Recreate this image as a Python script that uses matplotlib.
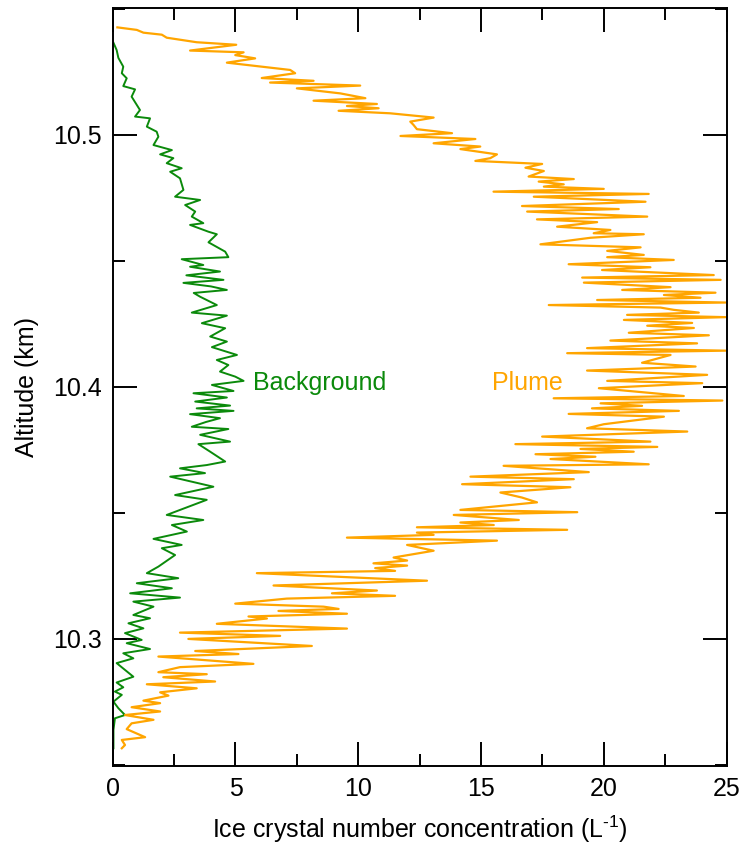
import matplotlib
matplotlib.use("Agg")
import matplotlib.pyplot as plt
from matplotlib.ticker import MultipleLocator

plt.rcParams['font.family'] = ['Liberation Sans', 'DejaVu Sans']
plt.rcParams['mathtext.fontset'] = 'custom'
plt.rcParams['mathtext.rm'] = 'Liberation Sans'

# Plume profile: altitude (km) and ice crystal number concentration (L^-1)
plume_alt = [10.5427, 10.5417, 10.5406, 10.5398, 10.5386, 10.5368, 10.5358, 10.5335, 10.5328, 10.5317,
             10.5304, 10.5287, 10.5258, 10.5245, 10.5226, 10.5215, 10.5208, 10.5196, 10.5185, 10.5165,
             10.5146, 10.5136, 10.5123, 10.5115, 10.5106, 10.5096, 10.5086, 10.5069, 10.5053, 10.5040,
             10.5023, 10.5007, 10.4996, 10.4984, 10.4967, 10.4954, 10.4944, 10.4923, 10.4908, 10.4897,
             10.4885, 10.4870, 10.4857, 10.4835, 10.4825, 10.4815, 10.4804, 10.4795, 10.4786, 10.4775,
             10.4766, 10.4755, 10.4735, 10.4718, 10.4706, 10.4696, 10.4676, 10.4665, 10.4654, 10.4636,
             10.4623, 10.4610, 10.4606, 10.4592, 10.4566, 10.4554, 10.4540, 10.4524, 10.4515, 10.4504,
             10.4487, 10.4475, 10.4464, 10.4444, 10.4434, 10.4425, 10.4414, 10.4396, 10.4385, 10.4374,
             10.4365, 10.4354, 10.4345, 10.4335, 10.4325, 10.4315, 10.4306, 10.4295, 10.4286, 10.4277,
             10.4266, 10.4254, 10.4243, 10.4234, 10.4215, 10.4205, 10.4184, 10.4173, 10.4154, 10.4144,
             10.4134, 10.4127, 10.4096, 10.4081, 10.4065, 10.4048, 10.4024, 10.4015, 10.3995, 10.3964,
             10.3955, 10.3946, 10.3935, 10.3925, 10.3915, 10.3905, 10.3893, 10.3882, 10.3852, 10.3836,
             10.3823, 10.3803, 10.3783, 10.3773, 10.3762, 10.3754, 10.3743, 10.3733, 10.3723, 10.3714,
             10.3693, 10.3687, 10.3662, 10.3644, 10.3634, 10.3614, 10.3602, 10.3581, 10.3561, 10.3542,
             10.3512, 10.3503, 10.3492, 10.3472, 10.3462, 10.3452, 10.3443, 10.3433, 10.3422, 10.3413,
             10.3402, 10.3390, 10.3373, 10.3350, 10.3323, 10.3311, 10.3300, 10.3291, 10.3281, 10.3270,
             10.3261, 10.3231, 10.3212, 10.3192, 10.3181, 10.3171, 10.3160, 10.3140, 10.3128, 10.3119,
             10.3111, 10.3100, 10.3089, 10.3081, 10.3060, 10.3041, 10.3025, 10.3012, 10.3000, 10.2972,
             10.2952, 10.2940, 10.2930, 10.2901, 10.2888, 10.2868, 10.2860, 10.2848, 10.2831, 10.2820,
             10.2804, 10.2788, 10.2775, 10.2755, 10.2745, 10.2729, 10.2712, 10.2698, 10.2679, 10.2665,
             10.2642, 10.2610, 10.2599, 10.2579, 10.2566]
plume_conc = [0.19, 0.98, 1.25, 2.00, 2.20, 3.42, 5.03, 3.15, 5.33, 4.99,
              5.80, 4.65, 7.23, 7.43, 6.07, 8.18, 6.41, 10.08, 7.50, 9.27,
              10.29, 8.18, 10.76, 9.54, 10.83, 9.20, 11.30, 13.07, 12.12, 12.25,
              12.39, 13.82, 11.72, 14.77, 13.07, 14.97, 14.16, 15.65, 15.38, 14.77,
              17.49, 16.81, 17.56, 16.94, 18.78, 17.35, 18.37, 17.56, 20.00, 15.51,
              21.83, 17.15, 21.70, 16.67, 20.61, 16.88, 21.77, 17.28, 19.73, 18.10,
              20.27, 19.59, 21.63, 19.46, 17.42, 21.50, 20.14, 21.63, 20.14, 22.85,
              18.57, 21.90, 19.93, 24.48, 19.12, 24.76, 19.19, 22.72, 20.75, 24.55,
              22.45, 23.94, 19.73, 24.96, 17.76, 22.31, 22.85, 23.87, 20.95, 24.96,
              20.82, 23.60, 21.77, 23.67, 21.02, 24.28, 20.27, 23.80, 19.32, 24.96,
              18.51, 22.72, 21.56, 23.74, 19.32, 24.21, 20.14, 24.01, 19.80, 23.26,
              17.96, 24.83, 19.87, 21.56, 19.52, 23.06, 18.57, 22.45, 20.00, 19.32,
              23.40, 17.49, 21.90, 16.40, 22.18, 19.05, 21.22, 17.22, 19.66, 17.83,
              21.83, 15.92, 19.39, 14.57, 18.78, 14.23, 18.64, 15.79, 16.67, 17.28,
              14.16, 18.92, 13.89, 16.54, 14.16, 15.52, 12.39, 18.51, 12.39, 13.07,
              9.54, 15.65, 11.99, 13.07, 11.44, 11.99, 10.62, 11.99, 10.69, 11.50,
              5.87, 12.80, 6.55, 10.76, 8.93, 11.50, 7.09, 4.99, 8.59, 9.20,
              6.75, 9.54, 5.53, 6.28, 4.24, 9.54, 2.74, 6.82, 3.08, 8.11,
              3.36, 5.12, 1.86, 5.73, 2.74, 1.86, 3.83, 2.06, 4.17, 1.39,
              3.42, 1.93, 2.27, 1.25, 1.93, 0.77, 1.93, 0.50, 1.66, 0.77,
              0.57, 1.32, 0.37, 0.50, 0.37]

# Background profile
bg_alt = [10.5366, 10.5337, 10.5306, 10.5271, 10.5245, 10.5225, 10.5194, 10.5181, 10.5152, 10.5099,
          10.5073, 10.5066, 10.5033, 10.5013, 10.4993, 10.4960, 10.4940, 10.4923, 10.4908, 10.4888,
          10.4868, 10.4854, 10.4828, 10.4782, 10.4755, 10.4742, 10.4722, 10.4696, 10.4676, 10.4650,
          10.4643, 10.4616, 10.4606, 10.4574, 10.4537, 10.4515, 10.4507, 10.4484, 10.4477, 10.4458,
          10.4443, 10.4425, 10.4413, 10.4399, 10.4385, 10.4373, 10.4358, 10.4325, 10.4295, 10.4283,
          10.4253, 10.4233, 10.4200, 10.4180, 10.4158, 10.4127, 10.4107, 10.4087, 10.4061, 10.4041,
          10.4024, 10.4008, 10.3984, 10.3975, 10.3958, 10.3942, 10.3926, 10.3915, 10.3905, 10.3892,
          10.3876, 10.3861, 10.3842, 10.3833, 10.3810, 10.3783, 10.3773, 10.3743, 10.3704, 10.3690,
          10.3677, 10.3658, 10.3644, 10.3604, 10.3571, 10.3552, 10.3492, 10.3472, 10.3452, 10.3426,
          10.3397, 10.3373, 10.3360, 10.3333, 10.3287, 10.3261, 10.3241, 10.3221, 10.3201, 10.3181,
          10.3164, 10.3148, 10.3128, 10.3095, 10.3082, 10.3062, 10.3042, 10.3023, 10.2996, 10.2983,
          10.2960, 10.2943, 10.2923, 10.2904, 10.2877, 10.2850, 10.2827, 10.2808, 10.2791, 10.2778,
          10.2751, 10.2725, 10.2698, 10.2685, 10.2639, 10.2566]
bg_conc = [0.03, 0.16, 0.23, 0.43, 0.37, 0.57, 0.43, 0.91, 0.77, 1.11,
           0.91, 1.52, 1.39, 1.79, 1.86, 1.66, 2.41, 1.93, 2.47, 2.20,
           2.81, 2.34, 2.74, 2.88, 2.54, 3.56, 2.95, 3.36, 3.22, 3.69,
           3.15, 3.90, 4.24, 3.90, 4.58, 4.71, 2.81, 3.69, 3.15, 4.37,
           3.00, 4.51, 2.88, 4.00, 4.65, 3.30, 3.56, 4.24, 3.22, 4.65,
           3.63, 4.58, 3.97, 4.65, 4.04, 5.06, 4.24, 4.71, 4.37, 4.99,
           5.33, 4.04, 4.92, 3.29, 4.65, 3.36, 4.78, 3.42, 4.92, 3.15,
           4.37, 3.80, 3.22, 4.71, 3.56, 4.78, 3.49, 3.97, 4.58, 3.83,
           2.74, 3.76, 2.34, 4.10, 2.54, 3.83, 2.20, 3.69, 2.41, 3.02,
           1.66, 2.81, 2.00, 2.54, 1.86, 1.39, 2.67, 0.98, 2.41, 0.71,
           2.74, 0.84, 1.66, 0.84, 1.52, 0.64, 1.25, 0.50, 1.18, 0.57,
           1.52, 0.43, 0.84, 0.16, 0.50, 0.84, 0.16, 0.43, 0.09, 0.37,
           0.03, 0.23, 0.50, 0.09, 0.03, 0.03]

x_ticks = [0, 5, 10, 15, 20, 25]
y_ticks = [10.3, 10.4, 10.5]
y_tick_labels = ["10.3", "10.4", "10.5"]

green = "#0b8a0b"
orange = "#ffa500"

fig = plt.figure(figsize=(7.45, 8.48), dpi=100)
ax = fig.add_axes([0.1513, 0.0971, 0.8239, 0.8932])

ax.plot(bg_conc, bg_alt, color=green, lw=1.4)
ax.plot(plume_conc, plume_alt, color=orange, lw=1.6)

ax.set_xlim(0, 25)
ax.set_ylim(10.2497, 10.5503)
ax.set_xticks(x_ticks)
ax.set_yticks(y_ticks)
ax.set_yticklabels(y_tick_labels)
ax.xaxis.set_minor_locator(MultipleLocator(2.5))
ax.yaxis.set_minor_locator(MultipleLocator(0.05))

ax.tick_params(which='both', direction='in', top=True, right=True, width=1.4, labelsize=18, pad=8)
ax.tick_params(which='major', length=17.3)
ax.tick_params(which='minor', length=8.6)
for s in ax.spines.values():
    s.set_linewidth(1.4)

ax.set_xlabel("Ice crystal number concentration (L$^{\\mathregular{\u2010}1}$)", fontsize=18, labelpad=9)
ax.set_ylabel("Altitude (km)", fontsize=18, labelpad=10)

ax.text(5.72, 10.4016, "Background", color=green, fontsize=18, va='center', ha='left')
ax.text(15.46, 10.4016, "Plume", color=orange, fontsize=18, va='center', ha='left')

fig.savefig("out.png", dpi=100)
